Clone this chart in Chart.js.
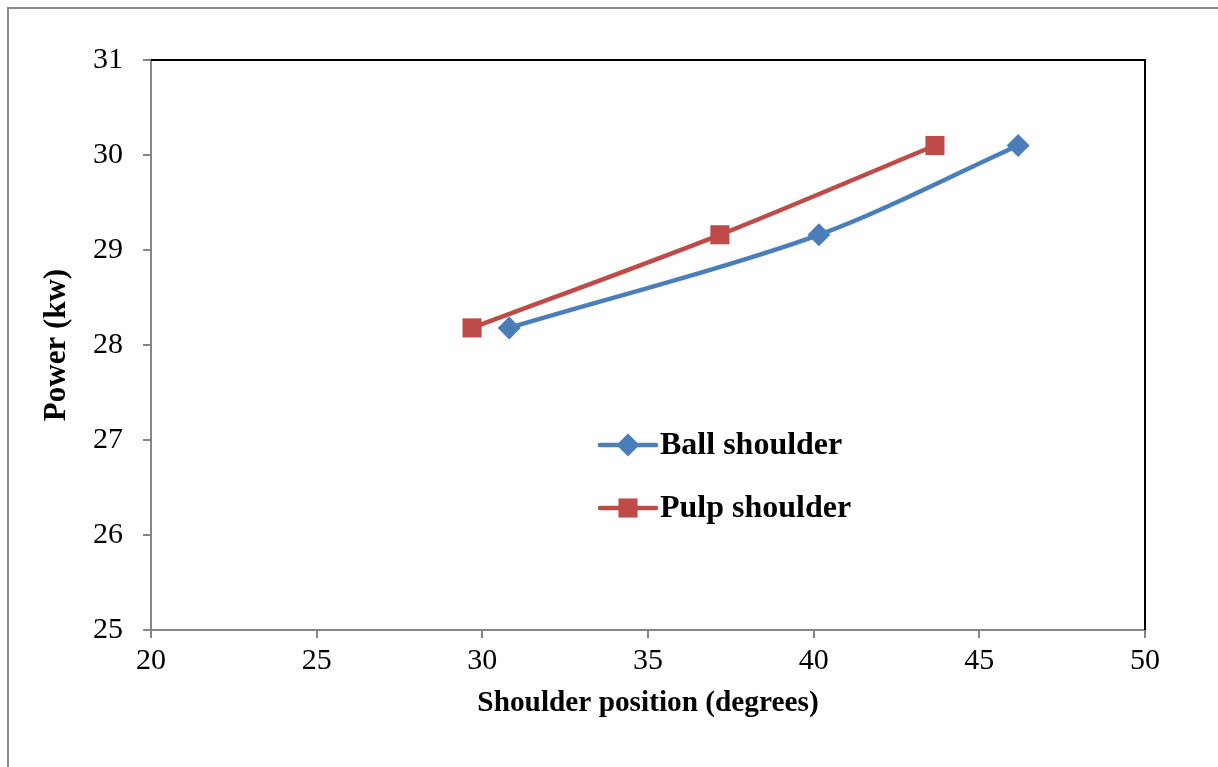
<!DOCTYPE html>
<html>
<head>
<meta charset="utf-8">
<script src="https://cdn.jsdelivr.net/npm/chart.js@4/dist/chart.umd.min.js"></script>
<style>
  html, body { margin: 0; padding: 0; background: #ffffff; overflow: hidden; }
  #wrap { position: relative; width: 1218px; height: 767px; }
  #frame { position: absolute; left: 7px; top: 7px; width: 1300px; height: 900px;
           border-left: 2px solid #8a8a8a; border-top: 2px solid #8a8a8a; }
  canvas { position: absolute; left: 0; top: 0; }
</style>
</head>
<body>
<div id="wrap">
  <div id="frame"></div>
  <canvas id="chart" width="1218" height="767"></canvas>
</div>
<script>
// Shoulder position (degrees) vs. power draw (kW)
const ballShoulderPos = [30.81, 40.16, 46.17];
const ballShoulderPower = [28.18, 29.16, 30.10];
const pulpShoulderPos = [29.69, 37.17, 43.66];
const pulpShoulderPower = [28.18, 29.16, 30.10];

const seriesNames = ['Ball shoulder', 'Pulp shoulder'];
const xTitle = 'Shoulder position (degrees)';
const yTitle = 'Power (kw)';
const xMin = 20, xMax = 50, xStep = 5;
const yMin = 25, yMax = 31, yStep = 1;

const toPoints = (xs, ys) => xs.map((x, i) => ({ x: x, y: ys[i] }));

const BLUE = '#4a7ebb';
const RED = '#be4b48';
const AXIS_GRAY = '#868686';
const SERIF = '"Liberation Serif", "Times New Roman", serif';

// Black frame on the top and right sides of the plot area
const plotFrame = {
  id: 'plotFrame',
  afterDatasetsDraw(chart) {
    const { ctx, chartArea: a } = chart;
    ctx.save();
    ctx.strokeStyle = '#000000';
    ctx.lineWidth = 2;
    ctx.beginPath();
    ctx.moveTo(a.left, a.top);
    ctx.lineTo(a.right, a.top);
    ctx.lineTo(a.right, a.bottom);
    ctx.stroke();
    ctx.restore();
  }
};

// Legend drawn inside the plot area, using each dataset's own style
const insideLegend = {
  id: 'insideLegend',
  afterDraw(chart, args, opts) {
    const { ctx, chartArea: a } = chart;
    ctx.save();
    chart.data.datasets.forEach((ds, i) => {
      const y = a.top + opts.top + i * opts.rowGap;
      const x0 = a.left + opts.left;
      const x1 = x0 + opts.lineLength;
      ctx.strokeStyle = ds.borderColor;
      ctx.lineWidth = ds.borderWidth;
      ctx.lineCap = 'round';
      ctx.beginPath();
      ctx.moveTo(x0, y);
      ctx.lineTo(x1, y);
      ctx.stroke();
      ctx.fillStyle = ds.pointBackgroundColor;
      ctx.strokeStyle = ds.pointBackgroundColor;
      Chart.helpers.drawPoint(ctx, {
        pointStyle: ds.pointStyle,
        radius: ds.pointRadius,
        borderWidth: 0
      }, (x0 + x1) / 2, y);
      ctx.fillStyle = '#000000';
      ctx.font = 'bold ' + opts.fontSize + 'px ' + SERIF;
      ctx.textBaseline = 'middle';
      ctx.textAlign = 'left';
      ctx.fillText(ds.label, x1 + opts.textGap, y + 1);
    });
    ctx.restore();
  }
};

new Chart(document.getElementById('chart'), {
  type: 'line',
  data: {
    datasets: [
      {
        label: seriesNames[0],
        data: toPoints(ballShoulderPos, ballShoulderPower),
        borderColor: BLUE,
        backgroundColor: BLUE,
        pointBackgroundColor: BLUE,
        pointBorderColor: BLUE,
        pointBorderWidth: 0,
        borderWidth: 4.5,
        pointStyle: 'rectRot',
        pointRadius: 11.5,
        tension: 0.3,
        fill: false
      },
      {
        label: seriesNames[1],
        data: toPoints(pulpShoulderPos, pulpShoulderPower),
        borderColor: RED,
        backgroundColor: RED,
        pointBackgroundColor: RED,
        pointBorderColor: RED,
        pointBorderWidth: 0,
        borderWidth: 4.5,
        pointStyle: 'rect',
        pointRadius: 13.5,
        tension: 0.3,
        fill: false
      }
    ]
  },
  options: {
    responsive: false,
    animation: false,
    events: [],
    layout: { padding: { top: 60, right: 73, left: 0, bottom: 0 } },
    plugins: {
      legend: { display: false },
      tooltip: { enabled: false },
      insideLegend: { left: 449, top: 385, rowGap: 63, lineLength: 56, textGap: 4, fontSize: 32 }
    },
    scales: {
      x: {
        type: 'linear',
        min: xMin, max: xMax,
        afterFit(scale) { scale.height = 137; },
        ticks: {
          stepSize: xStep,
          color: '#000000',
          padding: 5,
          maxRotation: 0,
          font: { family: SERIF, size: 30 }
        },
        grid: {
          display: true,
          drawOnChartArea: false,
          drawTicks: true,
          tickLength: 8,
          color: AXIS_GRAY,
          lineWidth: 2
        },
        border: { color: AXIS_GRAY, width: 2 },
        title: {
          display: true,
          text: xTitle,
          color: '#000000',
          padding: { top: 0, bottom: 46 },
          font: { family: SERIF, size: 29.3, weight: 'bold' }
        }
      },
      y: {
        type: 'linear',
        min: yMin, max: yMax,
        afterFit(scale) { scale.width = 151; },
        ticks: {
          stepSize: yStep,
          color: '#000000',
          padding: 20,
          font: { family: SERIF, size: 30 }
        },
        grid: {
          display: true,
          drawOnChartArea: false,
          drawTicks: true,
          tickLength: 8,
          color: AXIS_GRAY,
          lineWidth: 2
        },
        border: { color: AXIS_GRAY, width: 2 },
        title: {
          display: true,
          text: yTitle,
          color: '#000000',
          padding: { top: 38, bottom: 0 },
          font: { family: SERIF, size: 31, weight: 'bold' }
        }
      }
    }
  },
  plugins: [plotFrame, insideLegend]
});
</script>
</body>
</html>
